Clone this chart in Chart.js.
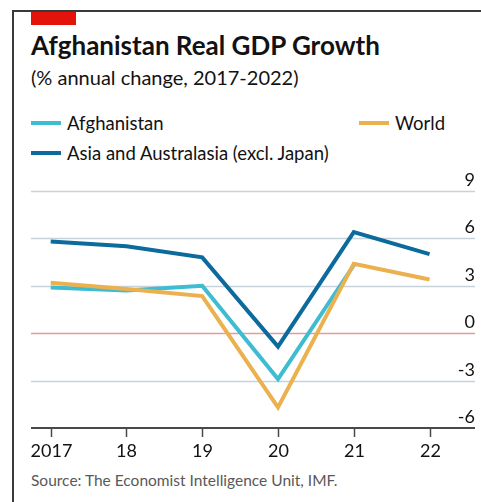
<!DOCTYPE html>
<html>
<head>
<meta charset="utf-8">
<script src="https://cdn.jsdelivr.net/npm/chart.js@4.4.1/dist/chart.umd.min.js"></script>
<style>
  body { margin: 0; background: #fff; font-family: Lato, "Open Sans", sans-serif; }
  #wrap { position: relative; width: 481px; height: 502px; overflow: hidden; }
  #frame { position: absolute; left: 12px; top: 10px; right: 0; bottom: 0; border-left: 2px solid #3a3a3a; border-top: 2px solid #3a3a3a; }
  #redbar { position: absolute; left: 31px; top: 12px; width: 45px; height: 13px; background: #e3120b; }
  .txt { position: absolute; white-space: nowrap; line-height: 1; color: #121212; }
  #title { left: 31px; top: 32px; font-size: 26px; font-weight: bold; }
  #subtitle { left: 31px; top: 67px; font-size: 20px; }
  .leg { font-size: 18.5px; }
  .sw { position: absolute; width: 30px; height: 4px; }
  #source { left: 31px; top: 473px; font-size: 15.5px; color: #595959; }
  canvas { position: absolute; left: 0; top: 0; }
</style>
</head>
<body>
<div id="wrap">
  <div id="frame"></div>
  <div id="redbar"></div>
  <div class="txt" id="title">Afghanistan Real GDP Growth</div>
  <div class="txt" id="subtitle">(% annual change, 2017-2022)</div>

  <div class="sw" style="left:31px; top:121px; background:#3ebcd2"></div>
  <div class="txt leg" style="left:67px; top:114px">Afghanistan</div>
  <div class="sw" style="left:359px; top:121px; background:#ebb14f"></div>
  <div class="txt leg" style="left:395px; top:114px">World</div>
  <div class="sw" style="left:31px; top:151px; background:#0d6a9c"></div>
  <div class="txt leg" style="left:67px; top:144px">Asia and Australasia (excl. Japan)</div>

  <div class="txt" id="source">Source: The Economist Intelligence Unit, IMF.</div>
  <canvas id="myChart" width="481" height="502"></canvas>
</div>
<script>
var years = [2017, 2018, 2019, 2020, 2021, 2022];
var yearLabels = ['2017', '18', '19', '20', '21', '22'];
var afghanistan = [2.9, 2.7, 3.0, -2.9, 4.3, null];
var world = [3.2, 2.8, 2.35, -4.7, 4.4, 3.4];
var asia = [5.8, 5.5, 4.8, -0.85, 6.4, 5.0];
var yTicks = [-6, -3, 0, 3, 6, 9];

function pts(vals) {
    return years.map(function (y, i) { return { x: y, y: vals[i] }; });
}

// axes drawn by hand so they sit exactly like the original
var axisPlugin = {
    id: 'econAxes',
    beforeDatasetsDraw: function (chart) {
        var c = chart.ctx, a = chart.chartArea;
        var ys = chart.scales.y;
        c.save();
        yTicks.forEach(function (t) {
            if (t === -6) return;
            var py = Math.round(ys.getPixelForValue(t)) + 0.5;
            c.strokeStyle = t === 0 ? '#e59a9a' : '#c6d2dc';
            c.lineWidth = 1.5;
            c.beginPath();
            c.moveTo(a.left, py);
            c.lineTo(a.right, py);
            c.stroke();
        });
        c.restore();
    },
    afterDatasetsDraw: function (chart) {
        var c = chart.ctx, a = chart.chartArea;
        var xs = chart.scales.x, ys = chart.scales.y;
        c.save();
        // bottom axis
        c.strokeStyle = '#4a4a4a';
        c.lineWidth = 2;
        c.beginPath();
        c.moveTo(a.left, a.bottom);
        c.lineTo(a.right, a.bottom);
        c.stroke();
        c.lineWidth = 1.5;
        c.fillStyle = '#121212';
        c.font = '18px Lato';
        c.textAlign = 'center';
        c.textBaseline = 'alphabetic';
        years.forEach(function (y, i) {
            var px = Math.round(xs.getPixelForValue(y)) + 0.5;
            c.beginPath();
            c.moveTo(px, a.bottom);
            c.lineTo(px, a.bottom + 9);
            c.stroke();
            c.fillText(yearLabels[i], px, a.bottom + 29);
        });
        // y labels sit above their gridlines, right aligned
        c.textAlign = 'right';
        yTicks.forEach(function (t) {
            c.fillText(String(t), a.right, ys.getPixelForValue(t) - 5);
        });
        c.restore();
    }
};

var ctx = document.getElementById('myChart').getContext('2d');
var myChart = new Chart(ctx, {
    type: 'line',
    data: {
        datasets: [{
            label: 'Asia and Australasia (excl. Japan)',
            data: pts(asia),
            borderColor: '#0d6a9c',
            order: 0
        }, {
            label: 'World',
            data: pts(world),
            borderColor: '#ebb14f',
            order: 1
        }, {
            label: 'Afghanistan',
            data: pts(afghanistan),
            borderColor: '#3ebcd2',
            order: 2
        }]
    },
    options: {
        responsive: false,
        animation: false,
        layout: { padding: { left: 31, right: 6, top: 191, bottom: 74 } },
        elements: {
            line: { borderWidth: 4, tension: 0, borderJoinStyle: 'miter', fill: false },
            point: { radius: 0 }
        },
        scales: {
            x: { type: 'linear', display: false, min: 2016.74, max: 2022.6 },
            y: { type: 'linear', display: false, min: -6, max: 9 }
        },
        plugins: {
            legend: { display: false },
            tooltip: { enabled: false }
        }
    },
    plugins: [axisPlugin]
});
</script>
</body>
</html>
